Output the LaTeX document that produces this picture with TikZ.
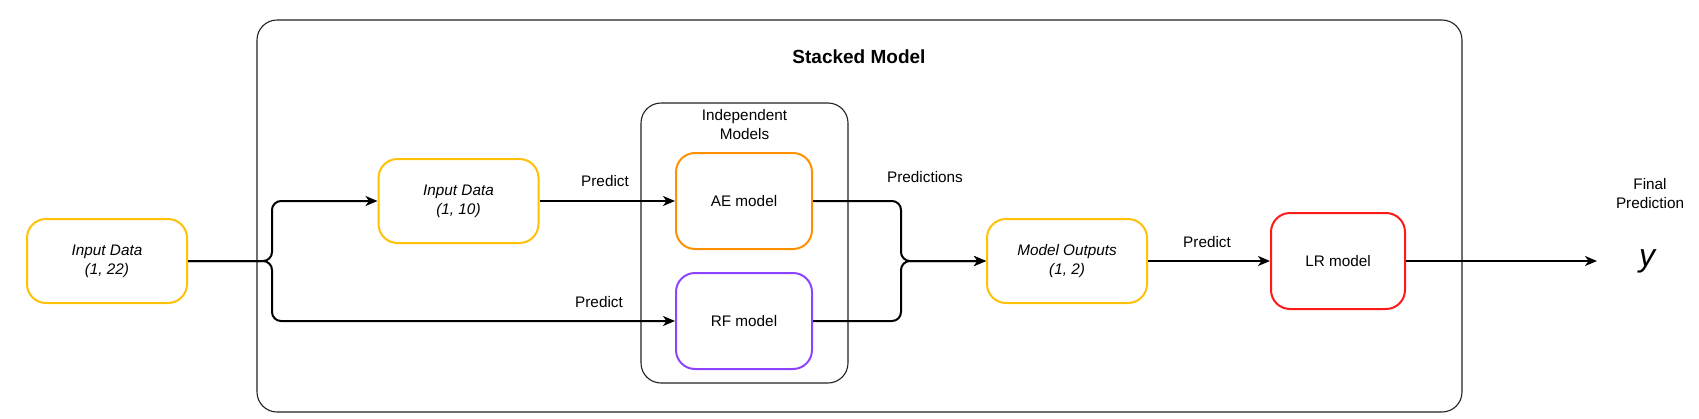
\documentclass[tikz,border=0pt]{standalone}
\usepackage{fontspec}
\setmainfont{Liberation Sans}
\usetikzlibrary{arrows.meta}
\definecolor{cyel}{HTML}{FFC107}
\definecolor{corg}{HTML}{FF9000}
\definecolor{cpur}{HTML}{8E44FF}
\definecolor{cred}{HTML}{FF1A1A}
\definecolor{cframe}{HTML}{222222}
\begin{document}
\begin{tikzpicture}[x=1pt,y=-1pt,
  txt/.style={font=\fontsize{15.3}{19}\selectfont, align=center, text=black},
  databox/.style={txt, draw=cyel, line width=2pt, rounded corners=19pt, minimum width=160pt, minimum height=84pt, inner sep=0pt},
  modelbox/.style={txt, line width=2pt, rounded corners=19pt, minimum width=136pt, minimum height=96pt, inner sep=0pt},
  frame/.style={draw=cframe, line width=1.1pt, rounded corners=20pt, inner sep=0pt},
  conn/.style={draw=black, line width=2pt, rounded corners=9pt},
  arr/.style={conn, -{Stealth[length=12pt,width=10pt,inset=3.5pt]}},
  lbl/.style={txt}
]
\useasboundingbox (0,0) rectangle (1699,418);
% frames
\node[frame, minimum width=1205pt, minimum height=392pt] (stack) at (859.5,216) {};
\node[font=\fontsize{19}{22}\selectfont\bfseries] (stacktitle) at (859,57) {Stacked Model};
\node[frame, minimum width=207pt, minimum height=280pt] (indep) at (744.5,243) {};
\node[txt, anchor=north] (indeptitle) at (744.5,106) {Independent\\Models};
% boxes
\node[databox] (in1) at (107,261) {\itshape Input Data\\\itshape (1, 22)};
\node[databox] (in2) at (458.5,201) {\itshape Input Data\\\itshape (1, 10)};
\node[modelbox, draw=corg] (ae) at (744,201) {AE model};
\node[modelbox, draw=cpur] (rf) at (744,321) {RF model};
\node[databox] (mo) at (1067,261) {\itshape Model Outputs\\\itshape (1, 2)};
\node[modelbox, draw=cred, minimum width=134pt] (lr) at (1338,261) {LR model};
% coordinates
\coordinate (bx1) at (272,261);
\coordinate (bx2) at (901,261);
\coordinate (yend) at (1597,261);
% connectors
\draw[arr] (in1.east) -- (bx1) |- (in2.west);
\draw[arr] (in1.east) -- (bx1) |- (rf.west);
\draw[arr] (in2.east) -- (ae.west);
\draw[arr] (ae.east) -| (bx2) -- (mo.west);
\draw[arr] (rf.east) -| (bx2) -- (mo.west);
\draw[arr] (mo.east) -- (lr.west);
\draw[arr] (lr.east) -- (yend);
% labels
\node[lbl] (p1) at (605,181) {Predict};
\node[lbl] (p2) at (599,302) {Predict};
\node[lbl] (p3) at (925,177) {Predictions};
\node[lbl] (p4) at (1207,242) {Predict};
\node[txt] (fp) at (1650,193.5) {Final\\Prediction};
\node[font=\fontsize{32}{36}\selectfont\itshape, anchor=base, inner sep=0pt] (yout) at (1647,266) {y};
\end{tikzpicture}
\end{document}
